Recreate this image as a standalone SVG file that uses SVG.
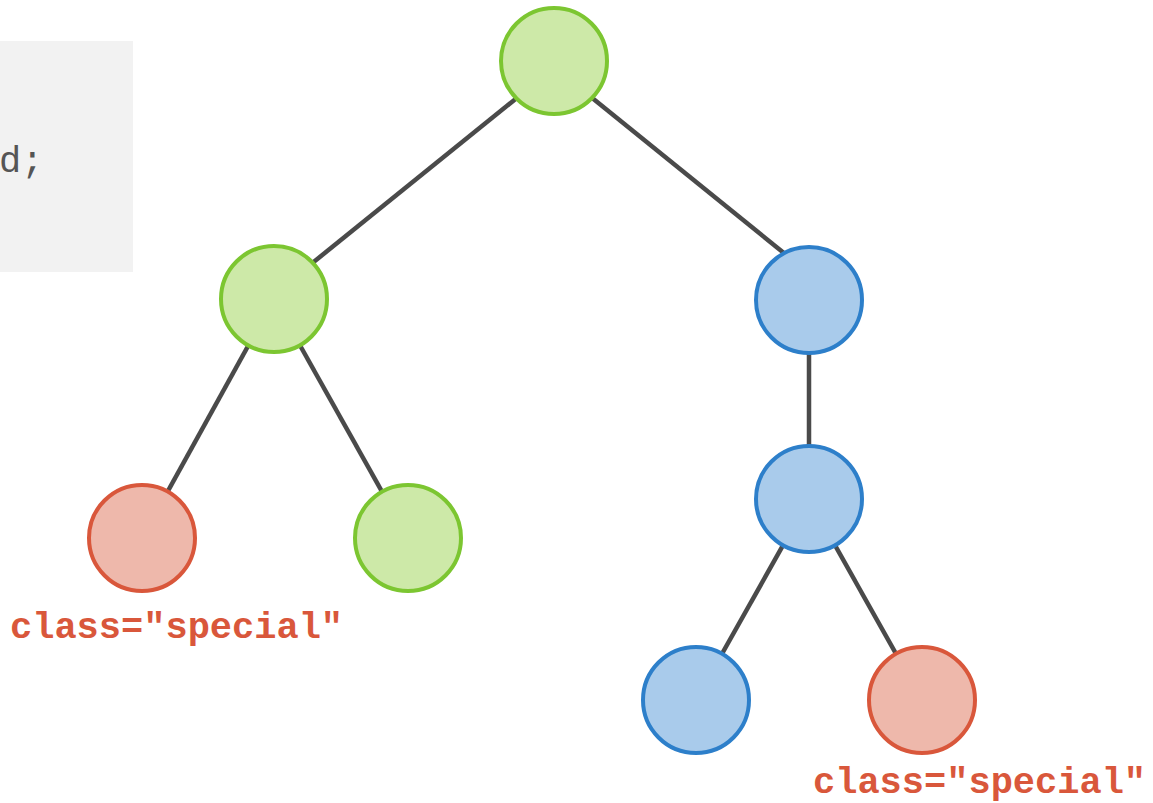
<svg xmlns="http://www.w3.org/2000/svg" width="1153" height="803" viewBox="0 0 1153 803">
<style>
.edge{stroke:#4a4a4a;stroke-width:4.5;fill:none}
.g{fill:#cde9a8;stroke:#7cc631;stroke-width:4}
.b{fill:#a9cbeb;stroke:#2d7fca;stroke-width:4}
.r{fill:#eeb8ab;stroke:#d9573b;stroke-width:4}
.lbl{font-family:"Liberation Mono","Courier New",monospace;font-weight:bold;font-size:37px;fill:#d9573b}
.code{font-family:"Liberation Mono","Courier New",monospace;font-size:37px;fill:#555555}
</style>
<rect width="1153" height="803" fill="#ffffff"/>
<g id="codebox">
<rect x="0" y="41" width="133" height="231" fill="#f2f2f2"/>
<text class="code" x="-1" y="172">d;</text>
</g>
<g id="connectors">
<line class="edge" x1="518" y1="97" x2="300" y2="273"/>
<line class="edge" x1="591" y1="97" x2="795" y2="262"/>
<line class="edge" x1="274" y1="299" x2="142" y2="538"/>
<line class="edge" x1="274" y1="299" x2="408" y2="538"/>
<line class="edge" x1="809" y1="300" x2="809" y2="499"/>
<line class="edge" x1="809" y1="499" x2="696" y2="700"/>
<line class="edge" x1="809" y1="499" x2="922" y2="700"/>
</g>
<g id="root"><circle class="g" cx="554" cy="61" r="53"/></g>
<g id="left"><circle class="g" cx="274" cy="299" r="53"/></g>
<g id="right"><circle class="b" cx="809" cy="300" r="53"/></g>
<g id="left-left"><circle class="r" cx="142" cy="538" r="53"/><text class="lbl" x="10" y="638">class="special"</text></g>
<g id="left-right"><circle class="g" cx="408" cy="538" r="53"/></g>
<g id="right-child"><circle class="b" cx="809" cy="499" r="53"/></g>
<g id="rc-left"><circle class="b" cx="696" cy="700" r="53"/></g>
<g id="rc-right"><circle class="r" cx="922" cy="700" r="53"/><text class="lbl" x="813" y="793">class="special"</text></g>
</svg>
